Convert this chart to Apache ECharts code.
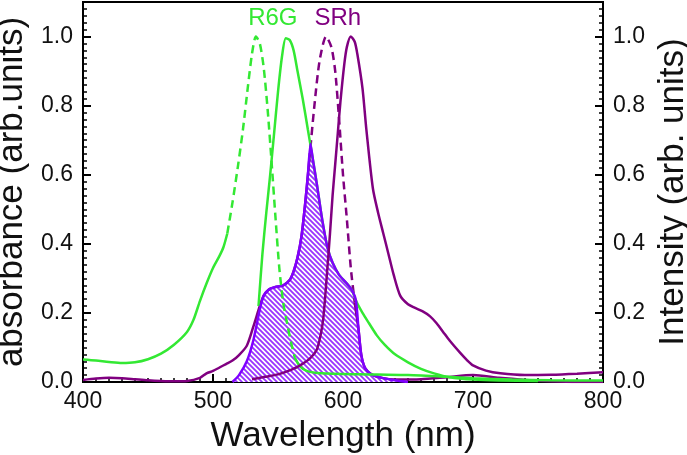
<!DOCTYPE html>
<html>
<head>
<meta charset="utf-8">
<script src="https://cdn.jsdelivr.net/npm/echarts@6/dist/echarts.min.js"></script>
<style>
  html, body { margin: 0; padding: 0; background: #fff; }
  #main { width: 687px; height: 455px; }
</style>
</head>
<body>
<div id="main"></div>
<script>
// R6G absorbance (dashed around the peak)
var wlAbsR6G = [400,410,420,430,440,450,460,470,480,485,490,495,500,505,508,511,515,519,523,527,530,533,536,539,542,545,548,551,554,557,560,563,567,572,580,600,620,650,680,700,730,760,800];
var absR6G   = [0.065,0.062,0.058,0.055,0.057,0.066,0.082,0.108,0.145,0.18,0.235,0.285,0.33,0.365,0.39,0.43,0.52,0.62,0.73,0.86,0.95,1.0,0.98,0.91,0.79,0.64,0.48,0.33,0.23,0.17,0.115,0.07,0.045,0.032,0.026,0.023,0.022,0.02,0.015,0.011,0.007,0.005,0.004];

// R6G emission
var wlEmR6G = [535,538,541,544,547,550,553,556,559,562,565,569,573,577,580,584,588,592,597,603,607,610,615,620,626,632,640,650,660,670,682,700,720,750];
var emR6G   = [0.22,0.37,0.49,0.6,0.72,0.84,0.94,0.995,0.99,0.96,0.9,0.82,0.73,0.64,0.57,0.47,0.39,0.345,0.31,0.285,0.265,0.235,0.2,0.17,0.135,0.108,0.08,0.057,0.038,0.025,0.014,0.007,0.004,0.003];

// SRh absorbance (dashed around the peak)
var wlAbsSRh = [400,410,420,430,440,450,460,470,480,490,495,500,505,510,515,520,526,531,536,539,543,548,554,559,562,565,568,571,574,578,582,587,591,594,597,600,603,606,609,612,614,617,622,630,640,660,680,700,720,740,760,780,800];
var absSRh   = [0.006,0.01,0.012,0.011,0.008,0.005,0.003,0.002,0.003,0.012,0.025,0.032,0.042,0.052,0.062,0.078,0.105,0.16,0.22,0.25,0.268,0.275,0.28,0.295,0.32,0.36,0.42,0.52,0.64,0.8,0.93,1.0,0.97,0.9,0.76,0.6,0.47,0.33,0.23,0.15,0.08,0.04,0.022,0.012,0.007,0.008,0.014,0.02,0.012,0.006,0.002,0.0,0.0];

// SRh emission
var wlEmSRh = [530,540,550,560,567,575,580,583,585,588,590,592,594,596,598,601,603,606,609,611,615,618,623,627,631,635,639,644,650,655,661,667,672,677,682,690,695,700,710,721,740,760,780,800];
var emSRh   = [0.008,0.015,0.022,0.035,0.048,0.07,0.095,0.14,0.19,0.33,0.43,0.54,0.63,0.72,0.81,0.92,0.97,1.0,0.985,0.95,0.85,0.73,0.56,0.49,0.43,0.37,0.31,0.25,0.225,0.215,0.205,0.19,0.17,0.145,0.12,0.085,0.065,0.048,0.033,0.025,0.02,0.021,0.024,0.028];

// hatched spectral overlap band
var wlBand = [515,520,526,531,536,539,543,548,554,559,562,565,568,571,573,575,577,580,584,588,592,597,603,607,610,612,614,617,622,630,640,650];
var band   = [0,0.02,0.06,0.12,0.21,0.25,0.268,0.275,0.28,0.295,0.32,0.36,0.42,0.52,0.6,0.69,0.64,0.57,0.47,0.39,0.345,0.31,0.285,0.265,0.235,0.15,0.08,0.04,0.022,0.012,0.005,0];

var GREEN = '#33e833', PURPLE = '#800080', VIOLET = '#7f00ff';
var FONT = 'Liberation Sans, Arial, sans-serif';

function pairs(xs, ys, lo, hi) {
  var out = [];
  for (var i = 0; i < xs.length; i++) {
    if (xs[i] >= lo && xs[i] <= hi) out.push([xs[i], ys[i]]);
  }
  return out;
}

// white tile with a "\" stroke, tiled for the hatch
function hatch() {
  var c = document.createElement('canvas');
  c.width = 5; c.height = 5;
  var g = c.getContext('2d');
  g.fillStyle = '#fff';
  g.fillRect(0, 0, 5, 5);
  g.strokeStyle = '#9933ff';
  g.lineWidth = 1.8;
  g.beginPath();
  g.moveTo(-1, -1); g.lineTo(6, 6);
  g.moveTo(-1, 4); g.lineTo(1, 6);
  g.moveTo(4, -1); g.lineTo(6, 1);
  g.stroke();
  return c;
}

function line(name, data, color, dashed, yIdx) {
  return {
    name: name, type: 'line', data: data, yAxisIndex: yIdx || 0,
    showSymbol: false, smooth: 0.25, silent: true,
    lineStyle: { color: color, width: 2.5, type: dashed ? [8, 5] : 'solid' }
  };
}

function yAx(pos) {
  return {
    type: 'value', position: pos, min: 0, max: 1.1, interval: 0.2,
    axisLine: { show: true, lineStyle: { color: '#000', width: 2 } },
    axisTick: { inside: true, length: 8, lineStyle: { color: '#000', width: 2 } },
    minorTick: { show: true, splitNumber: 10, length: 4, lineStyle: { color: '#000', width: 1.5 } },
    splitLine: { show: false },
    axisLabel: { color: '#111', fontSize: 23, fontFamily: FONT, margin: 10, showMaxLabel: false,
      formatter: function (v) { return v.toFixed(1); } },
    nameLocation: 'middle',
    nameTextStyle: { color: '#111', fontSize: 35, fontFamily: FONT }
  };
}

var chart = echarts.init(document.getElementById('main'));
var yLeft = yAx('left');
yLeft.name = 'absorbance (arb.units)';
yLeft.nameGap = 43;
var yRight = yAx('right');
yRight.name = 'Intensity (arb. units)';
yRight.nameGap = 45;

chart.setOption({
  animation: false,
  backgroundColor: '#fff',
  grid: { left: 83, right: 84, top: 2, bottom: 73, outerBoundsMode: 'none',
    show: true, borderColor: '#000', borderWidth: 2 },
  xAxis: {
    type: 'value', min: 400, max: 800, interval: 100,
    name: 'Wavelength (nm)', nameLocation: 'middle', nameGap: 37,
    nameTextStyle: { color: '#111', fontSize: 35, fontFamily: FONT },
    axisLine: { show: true, lineStyle: { color: '#000', width: 2 } },
    axisTick: { inside: true, length: 8, lineStyle: { color: '#000', width: 2 } },
    minorTick: { show: true, splitNumber: 10, length: 4, lineStyle: { color: '#000', width: 1.5 } },
    splitLine: { show: false },
    axisLabel: { color: '#111', fontSize: 23, fontFamily: FONT, margin: 8 }
  },
  yAxis: [yLeft, yRight],
  series: [
    // SRh absorbance and R6G emission sit under the band, so its edge covers them
    line('SRh abs', pairs(wlAbsSRh, absSRh, 400, 574), PURPLE, false),
    line('SRh abs', pairs(wlAbsSRh, absSRh, 574, 609), PURPLE, true),
    line('SRh abs', pairs(wlAbsSRh, absSRh, 609, 800), PURPLE, false),
    line('R6G em', pairs(wlEmR6G, emR6G, 0, 1000), GREEN, false, 1),
    {
      name: 'overlap', type: 'line', data: pairs(wlBand, band, 0, 1000), yAxisIndex: 1,
      showSymbol: false, smooth: 0.2, silent: true,
      lineStyle: { color: VIOLET, width: 2.5 },
      areaStyle: { color: { image: hatch(), repeat: 'repeat' }, opacity: 1 }
    },
    line('R6G abs', pairs(wlAbsR6G, absR6G, 400, 511), GREEN, false),
    line('R6G abs', pairs(wlAbsR6G, absR6G, 511, 563), GREEN, true),
    line('R6G abs', pairs(wlAbsR6G, absR6G, 563, 800), GREEN, false),
    line('SRh em', pairs(wlEmSRh, emSRh, 0, 1000), PURPLE, false, 1),
    {
      name: 'labels', type: 'line', data: [], silent: true,
      markPoint: {
        symbol: 'circle', symbolSize: 0, silent: true,
        label: { show: true, position: 'inside', fontSize: 24, fontFamily: FONT },
        data: [
          { coord: [546, 1.053], label: { formatter: 'R6G', color: GREEN } },
          { coord: [596, 1.053], label: { formatter: 'SRh', color: PURPLE } }
        ]
      }
    }
  ]
});
</script>
</body>
</html>
